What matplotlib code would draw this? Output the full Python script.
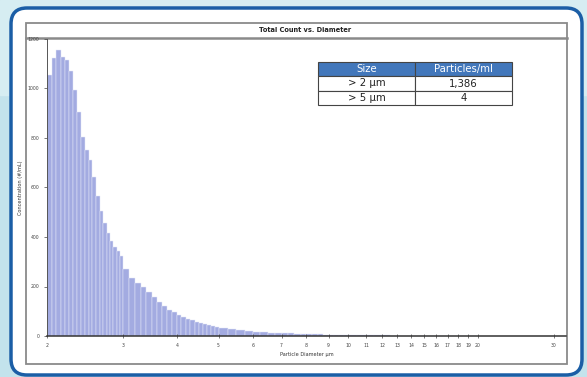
import matplotlib.pyplot as plt
from matplotlib.patches import FancyBboxPatch, Rectangle

# bin edges (um) and bar heights
edges = [2.00, 2.05, 2.10, 2.15, 2.20, 2.25, 2.30, 2.35, 2.40, 2.45, 2.50,
         2.55, 2.60, 2.65, 2.70, 2.75, 2.80, 2.85, 2.90, 2.95, 3.00,
         3.1, 3.2, 3.3, 3.4, 3.5, 3.6, 3.7, 3.8, 3.9, 4.0,
         4.1, 4.2, 4.3, 4.4, 4.5, 4.6, 4.7, 4.8, 4.9, 5.0,
         5.25, 5.5, 5.75, 6.0, 6.25, 6.5, 6.75, 7.0, 7.25, 7.5,
         7.75, 8.0, 8.25, 8.5, 8.75, 9.0, 9.25, 9.5, 9.75, 10.0,
         10.5, 11.0, 11.5, 12.0, 12.5, 13.0, 13.5, 14.0, 14.5, 15.0,
         15.5, 16.0, 16.5, 17.0, 17.5, 18.0, 18.5, 19.0, 19.5, 20.0]
counts = [1056, 1124, 1156, 1128, 1116, 1072, 992, 904, 804, 752,
          712, 644, 564, 504, 456, 416, 384, 360, 344, 324,
          272, 236, 216, 196, 176, 156, 136, 120, 104, 96,
          84, 76, 68, 64, 56, 52, 48, 44, 40, 36,
          32, 28, 24, 20, 18, 16, 14, 13, 12, 11,
          10, 9, 8, 8, 7, 6, 6, 5, 5, 4,
          4, 4, 3, 3, 3, 2, 2, 2, 2, 1,
          1, 1, 1, 1, 1, 0.5, 0.5, 0.5, 0.5, 0.5]

xticks = [2, 3, 4, 5, 6, 7, 8, 9, 10, 11, 12, 13, 14, 15, 16, 17, 18, 19, 20, 30]
yticks = [0, 200, 400, 600, 800, 1000, 1200]

table_rows = [["Size", "Particles/ml"], ["> 2 µm", "1,386"], ["> 5 µm", "4"]]

W, H = 587, 377
fig = plt.figure(figsize=(W / 100, H / 100), dpi=100, facecolor='#c3e3ec')

# slide background, rounded panel and chart frame (pixel coordinates)
bg = fig.add_axes([0, 0, 1, 1])
bg.set_xlim(0, W)
bg.set_ylim(H, 0)
bg.axis('off')
bg.add_patch(Rectangle((0, 0), W, 95, color='#d6edf2', zorder=0))
bg.add_patch(FancyBboxPatch((11, 8), 571, 367, boxstyle='round,pad=0,rounding_size=16',
                            facecolor='white', edgecolor='#1b5ea6', lw=2.5, zorder=1))
bg.add_patch(Rectangle((26, 23), 541, 341, facecolor='white', edgecolor='#8a8a8a',
                       lw=1.3, zorder=2))
bg.plot([26, 567], [38, 38], color='#8a8a8a', lw=1.8, zorder=3)
bg.text(305, 30.5, "Total Count vs. Diameter", ha='center', va='center',
        fontsize=4.8, fontweight='bold', color='#222', zorder=3)

ax = fig.add_axes([47 / W, (H - 336) / H, (566 - 47) / W, (336 - 39) / H])
ax.patch.set_alpha(0)
lefts = edges[:-1]
widths = [b - a for a, b in zip(edges[:-1], edges[1:])]
ax.bar(lefts, counts, width=widths, align='edge', color='#a3abe1',
       edgecolor='#e4e7f7', linewidth=0.35)
ax.set_xscale('log')
ax.set_xlim(2, 32)
ax.set_ylim(0, 1200)
ax.set_xticks(xticks)
ax.set_xticklabels([str(t) for t in xticks])
ax.minorticks_off()
ax.set_yticks(yticks)
ax.tick_params(axis='both', labelsize=3.3, colors='#444', length=2, width=0.5)
ax.tick_params(axis='x', direction='inout', length=3)
for s in ['top', 'right']:
    ax.spines[s].set_visible(False)
ax.spines['left'].set_color('#555')
ax.spines['left'].set_linewidth(0.7)
ax.spines['bottom'].set_color('#333')
ax.spines['bottom'].set_linewidth(1.1)
ax.set_xlabel("Particle Diameter µm", fontsize=3.6, color='#333', labelpad=3)
ax.set_ylabel("Concentration (#/mL)", fontsize=3.6, color='#333', labelpad=3)

tb = ax.table(cellText=table_rows, cellLoc='center',
              bbox=[(318 - 47) / 519, (336 - 105) / 297, (512 - 318) / 519, 43 / 297])
tb.auto_set_font_size(False)
for (r, c), cell in tb.get_celld().items():
    cell.set_edgecolor('#444')
    cell.set_linewidth(0.8)
    cell.get_text().set_fontsize(7.3)
    cell.get_text().set_color('#222')
    if r == 0:
        cell.set_facecolor('#4277bb')
        cell.get_text().set_color('white')

fig.savefig('out.png', dpi=100, facecolor=fig.get_facecolor())
